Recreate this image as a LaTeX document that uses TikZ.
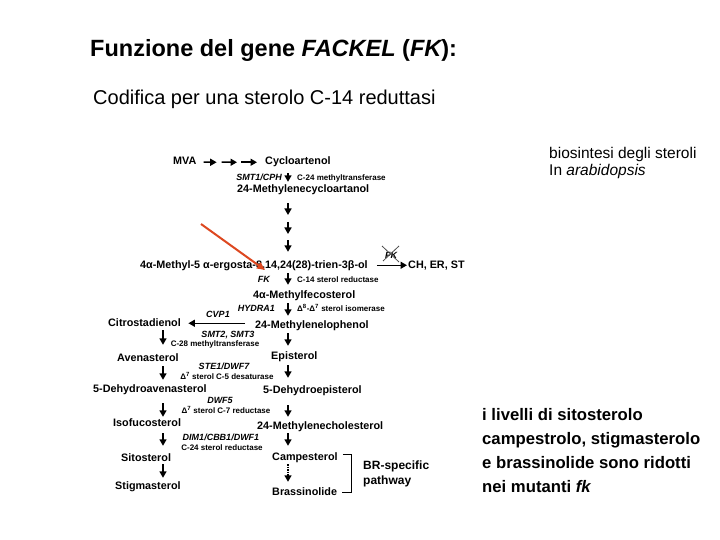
\documentclass[tikz,border=0pt]{standalone}
\usepackage{fontspec}
\setmainfont{Liberation Sans}
\usetikzlibrary{arrows.meta,calc}
\definecolor{redorange}{RGB}{221,72,32}

\begin{document}
\begin{tikzpicture}[
  x=1pt, y=-1pt,
  >={Triangle[length=6.5pt,width=7pt]},
  cpd/.style={font=\fontsize{10.8}{12}\selectfont\bfseries,inner sep=0pt,
    text height=8pt,text depth=2.5pt,anchor=base west},
  enz/.style={font=\fontsize{9}{10}\selectfont\bfseries\itshape,inner sep=0pt},
  note/.style={font=\fontsize{8}{9}\selectfont\bfseries,inner sep=0pt},
  side/.style={font=\fontsize{15.5}{17}\selectfont,inner sep=0pt,anchor=base west},
  res/.style={font=\fontsize{16.7}{20}\selectfont\bfseries,inner sep=0pt,anchor=base west},
  rxn/.style={->,line width=1.5pt},
  gap/.style 2 args={shorten <=#1pt,shorten >=#2pt},
  bracket/.style={line width=1.4pt},
  cross/.style={line width=0.8pt,draw=black!70},
  redarrow/.style={-{Triangle[length=8pt,width=7pt]},line width=2pt,draw=redorange,fill=redorange}
]
\useasboundingbox[fill=white] (0,0) rectangle (720,540);

% intestazione
\node[font=\fontsize{23.5}{27}\selectfont\bfseries,inner sep=0pt,anchor=base west]
  (title) at (90,57) {Funzione del gene {\itshape FACKEL} ({\itshape FK}):};
\node[font=\fontsize{20}{24}\selectfont,inner sep=0pt,anchor=base west]
  (sub) at (93,105) {Codifica per una sterolo C-14 reduttasi};

% note a destra
\node[side] (bio1) at (549,159) {biosintesi degli steroli};
\node[side] (bio2) at (549,176) {In \textit{arabidopsis}};
\node[res] (res1) at (482,420) {i livelli di sitosterolo};
\node[res] (res2) at (482,444) {campestrolo, stigmasterolo};
\node[res] (res3) at (482,468) {e brassinolide sono ridotti};
\node[res] (res4) at (482,492) {nei mutanti \textit{fk}};

% colonne delle frecce
\coordinate (colL) at (163,0);
\coordinate (colR) at (288,0);

% via principale
\node[cpd] (mva) at (173,165) {MVA};
\node[cpd] (cyc) at (265,165) {Cycloartenol};
\node[cpd] (mcy) at (237,193) {24-Methylenecycloartanol};
\node[cpd] (me) at (140,268) {4α-Methyl-5 α-ergosta-8,14,24(28)-trien-3β-ol};
\node[cpd] (cher) at (408,268) {CH, ER, ST};
\node[cpd] (fec) at (253,298) {4α-Methylfecosterol};
\node[cpd] (lop) at (255,328) {24-Methylenelophenol};
\node[cpd] (epi) at (271,359) {Episterol};
\node[cpd] (dep) at (263,393) {5-Dehydroepisterol};
\node[cpd] (mch) at (257,429) {24-Methylenecholesterol};
\node[cpd] (camp) at (272,460) {Campesterol};
\node[cpd] (bra) at (272,495) {Brassinolide};

% ramo di sinistra
\node[cpd] (cit) at (108,326) {Citrostadienol};
\node[cpd] (ave) at (117,361) {Avenasterol};
\node[cpd] (dav) at (93,392) {5-Dehydroavenasterol};
\node[cpd] (iso) at (113,426) {Isofucosterol};
\node[cpd] (sit) at (121,461) {Sitosterol};
\node[cpd] (stig) at (115,489) {Stigmasterol};

% enzimi
\node[enz,anchor=base east] (smt1) at (282,181) {SMT1/CPH};
\node[note,anchor=base west] (c24m) at (297,181) {C-24 methyltransferase};
\node[enz,anchor=base east] (fk) at (270,282) {FK};
\node[note,anchor=base west] (c14) at (297,282) {C-14 sterol reductase};
\node[enz,anchor=base east] (hyd) at (275,311) {HYDRA1};
\node[note,anchor=base west] (isom) at (297,311)
  {Δ\textsuperscript{8}-Δ\textsuperscript{7} sterol isomerase};
\node[enz,anchor=base] (cvp) at (218,317) {CVP1};
\node[enz,anchor=base] (smt2) at (228,337) {SMT2, SMT3};
\node[note,anchor=base] (c28m) at (215,346) {C-28 methyltransferase};
\node[enz,anchor=base] (ste) at (224,369) {STE1/DWF7};
\node[note,anchor=base] (c5d) at (227,379) {Δ\textsuperscript{7} sterol C-5 desaturase};
\node[enz,anchor=base] (dwf5) at (220,403) {DWF5};
\node[note,anchor=base] (c7r) at (226,413) {Δ\textsuperscript{7} sterol C-7 reductase};
\node[enz,anchor=base] (dim) at (221,440) {DIM1/CBB1/DWF1};
\node[note,anchor=base] (c24r) at (222,450) {C-24 sterol reductase};
\node[enz] (fkx) at (391,255) {FK};

% frecce MVA -> Cycloartenol
\coordinate (m1) at ($(mva.east)!0.33!(cyc.west)$);
\coordinate (m2) at ($(mva.east)!0.62!(cyc.west)$);
\draw[rxn,gap={7}{2.5}] (mva.east) -- (m1);
\draw[rxn,gap={2.5}{2}] (m1) -- (m2);
\draw[rxn,gap={2}{8}] (m2) -- (cyc.west);

% colonna di destra
\coordinate (k1) at (288,218.5);
\coordinate (k2) at (288,237);
\draw[rxn,gap={5.5}{3}] (cyc.south -| colR) -- (mcy.north -| colR);
\draw[rxn,gap={7.5}{3.5}] (mcy.south -| colR) -- (k1);
\draw[rxn,gap={3.5}{3}] (k1) -- (k2);
\draw[rxn,gap={3}{8}] (k2) -- (me.north -| colR);
\draw[rxn,gap={2.5}{5}] (me.south -| colR) -- (fec.north -| colR);
\draw[rxn,gap={2.5}{4}] (fec.south -| colR) -- (lop.north -| colR);
\draw[rxn,gap={2.5}{5}] (lop.south -| colR) -- (epi.north -| colR);
\draw[rxn,gap={3.5}{7}] (epi.south -| colR) -- (dep.north -| colR);
\draw[rxn,gap={9.5}{4}] (dep.south -| colR) -- (mch.north -| colR);
\draw[rxn,gap={1.5}{6}] (mch.south -| colR) -- (camp.north -| colR);
\draw[rxn,densely dotted,gap={1.5}{5}] (camp.south -| colR) -- (bra.north -| colR);

% colonna di sinistra
\draw[rxn,gap={10}{7.4}] (lop.west |- cit.east) -- (cit.east);
\draw[rxn,gap={1.5}{8}] (cit.south -| colL) -- (ave.north -| colL);
\draw[rxn,gap={2.5}{4}] (ave.south -| colL) -- (dav.north -| colL);
\draw[rxn,gap={8.5}{1}] (dav.south -| colL) -- (iso.north -| colL);
\draw[rxn,gap={4.5}{7}] (iso.south -| colL) -- (sit.north -| colL);
\draw[rxn,gap={0.5}{3}] (sit.south -| colL) -- (stig.north -| colL);

% FK bloccato
\draw[rxn,gap={9}{1}] (me.east) -- (cher.west);
\draw[cross] ($(fkx.center)+(-9,-9)$) -- ($(fkx.center)+(8,7)$);
\draw[cross] ($(fkx.center)+(8,-9)$) -- ($(fkx.center)+(-8,6)$);

% via specifica BR
\draw[bracket] ([xshift=5pt,yshift=3pt]camp.east) -| ([xshift=14pt]bra.east)
  -- ([xshift=5pt]bra.east);
\node[font=\fontsize{12}{15}\selectfont\bfseries,inner sep=0pt,anchor=west,align=left]
  (br) at (363,474) {BR-specific\\pathway};

% freccia rossa
\coordinate (rtail) at (201,224);
\coordinate (rtip) at (265,270);
\draw[redarrow] (rtail) -- (rtip);
\end{tikzpicture}
\end{document}
